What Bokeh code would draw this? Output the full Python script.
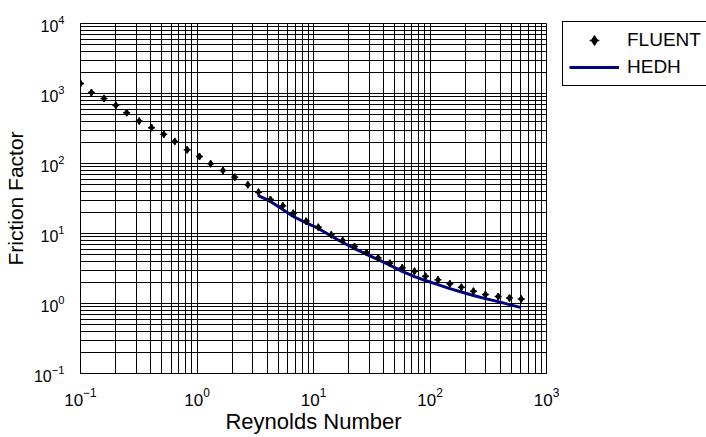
import math
from bokeh.plotting import figure
from bokeh.models import Legend, LegendItem, FixedTicker, Range1d
from bokeh.embed import file_html
from bokeh.resources import INLINE

# ---- data ----
re_fluent = [0.100, 0.124, 0.159, 0.201, 0.249, 0.319, 0.407, 0.519, 0.644, 0.824,
             1.05, 1.31, 1.67, 2.11, 2.73, 3.37, 4.27, 5.45, 6.70, 8.65,
             11.0, 14.2, 17.8, 22.5, 28.5, 35.9, 45.2, 57.7, 73.6, 91.5,
             117, 148, 186, 236, 299, 385, 481, 607]
f_fluent = [1386, 1030, 845, 678, 533, 404, 325, 261, 207, 157,
            126, 99.3, 79.6, 63.8, 49.7, 39.0, 30.6, 24.9, 19.5, 15.0,
            12.3, 9.58, 7.94, 6.52, 5.35, 4.49, 3.76, 3.23, 2.89, 2.45,
            2.18, 1.91, 1.71, 1.50, 1.34, 1.26, 1.20, 1.16]
re_hedh = [3.33, 4.27, 5.45, 6.70, 8.65, 11.0, 14.2, 17.8, 22.5, 28.5, 35.9,
           45.2, 57.7, 73.6, 91.5, 117, 148, 186, 236, 299, 385, 481, 607]
f_hedh = [35.0, 28.7, 22.0, 17.5, 14.2, 11.8, 9.21, 7.43, 6.10, 5.05, 4.22,
          3.54, 2.88, 2.42, 2.13, 1.86, 1.63, 1.46, 1.30, 1.175, 1.064, 0.964, 0.873]

x_major = [0.1, 1, 10, 100, 1000]
y_major = [0.1, 1, 10, 100, 1000, 10000]

x_title = "Reynolds Number"
y_title = "Friction Factor"
series_names = ["FLUENT", "HEDH"]

FONT = "Liberation Sans"
FRAME_W, FRAME_H = 466, 350
LEG_H = 63

def minors(major):
    out = []
    for m in major[:-1]:
        for k in range(2, 10):
            out.append(m * k)
    return out

p = figure(frame_width=FRAME_W, frame_height=FRAME_H,
           x_axis_type="log", y_axis_type="log",
           x_range=Range1d(x_major[0], x_major[-1]),
           y_range=Range1d(y_major[0], y_major[-1]),
           output_backend="svg", toolbar_location=None,
           min_border_left=80, min_border_right=160,
           min_border_top=23, min_border_bottom=60)
p.background_fill_color = "white"
p.border_fill_color = "white"
p.outline_line_color = "black"
p.outline_line_width = 1
p.outline_line_alpha = 1

xt = FixedTicker(ticks=x_major, minor_ticks=minors(x_major))
yt = FixedTicker(ticks=y_major, minor_ticks=minors(y_major))
p.xaxis.ticker = xt
p.yaxis.ticker = yt
p.xgrid.ticker = xt
p.ygrid.ticker = yt
for g in (p.xgrid, p.ygrid):
    g.grid_line_color = "black"
    g.grid_line_alpha = 1
    g.grid_line_width = 1
    g.minor_grid_line_color = "black"
    g.minor_grid_line_alpha = 1
    g.minor_grid_line_width = 1

for ax in (p.xaxis, p.yaxis):
    ax.major_tick_line_color = None
    ax.minor_tick_line_color = None
    ax.axis_line_color = "black"
    ax.major_label_text_font = FONT
    ax.major_label_text_color = "black"
    ax.axis_label_text_font = FONT
    ax.axis_label_text_font_style = "normal"
    ax.axis_label_text_color = "black"
p.xaxis.major_label_text_font_size = "17px"
p.yaxis.major_label_text_font_size = "16px"
p.xaxis.axis_label_text_font_size = "22px"
p.yaxis.axis_label_text_font_size = "21px"
p.xaxis.axis_label = x_title
p.yaxis.axis_label = y_title
p.xaxis.major_label_standoff = 8
p.yaxis.major_label_standoff = 10
p.xaxis.axis_label_standoff = 0
p.yaxis.axis_label_standoff = 4

r_line = p.line(re_hedh, f_hedh, line_color="#000080", line_width=3)
r_d = p.scatter(re_fluent, f_fluent, marker="diamond", size=7,
                fill_color="black", line_color="black")
r_c = p.scatter(re_fluent, f_fluent, marker="cross", size=7,
                line_color="black", line_width=1.5)

legend = Legend(items=[LegendItem(label=series_names[0], renderers=[r_d, r_c]),
                       LegendItem(label=series_names[1], renderers=[r_line])],
                location=(16, FRAME_H - LEG_H), margin=0, padding=6, spacing=3,
                label_height=24, glyph_height=24, glyph_width=50,
                label_standoff=8,
                label_text_font=FONT, label_text_font_size="19px",
                label_text_color="black",
                border_line_color="black", border_line_width=1, border_line_alpha=1,
                background_fill_color="white", background_fill_alpha=1)
p.add_layout(legend, "right")

open("out.html", "w").write(file_html(p, INLINE))
